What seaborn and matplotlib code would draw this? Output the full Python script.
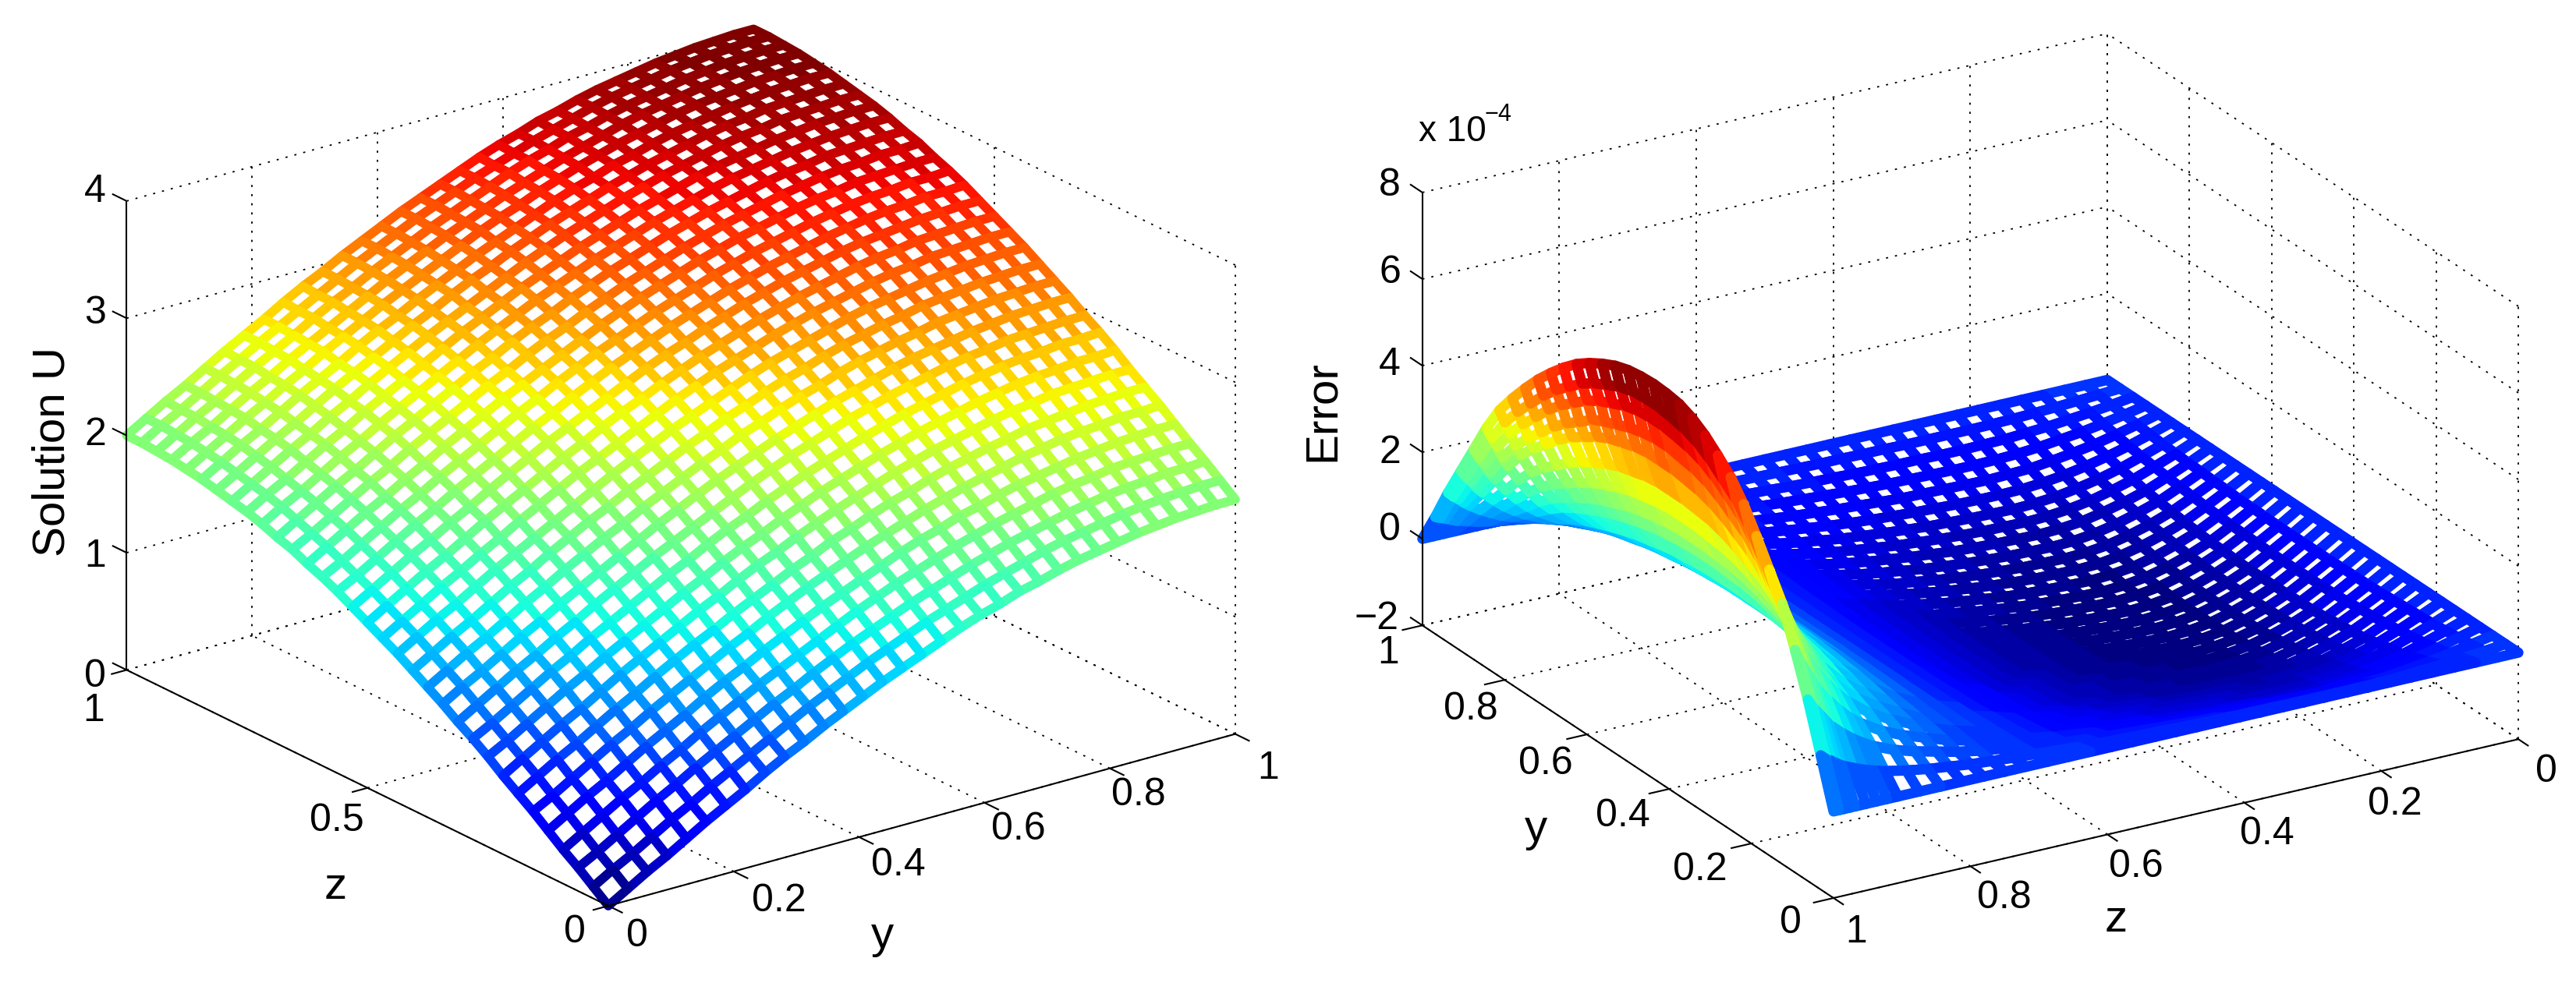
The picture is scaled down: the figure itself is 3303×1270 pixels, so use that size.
import numpy as np
import matplotlib
matplotlib.use("Agg")
import matplotlib.pyplot as plt
import seaborn as sns
from mpl_toolkits.mplot3d import proj3d

sns.set_theme(style="white")
W, H = 3303, 1270
TICKFONT = ["Liberation Sans Narrow", "Liberation Sans"]
LABELFONT = ["Liberation Sans"]

y_ticks = [0, 0.2, 0.4, 0.6, 0.8, 1]
z_ticks_left = [0, 0.5, 1]
u_ticks = [0, 1, 2, 3, 4]
e_ticks = [-2, 0, 2, 4, 6, 8]
z_ticks_right = [0, 0.2, 0.4, 0.6, 0.8, 1]

error_z = [0, .0313, .0625, .0938, .125, .1563, .1875, .2188, .25, .2813, .3125, .3438, .375, .4063, .4375,
           .4688, .5, .5313, .5625, .5938, .625, .6563, .6875, .7188, .75, .7813, .8125, .8438, .875, .9063,
           .9219, .9375, .9531, .9688, .9766, .9844, .9922, 1]

solution_u = [
 [0,.10,.20,.29,.39,.49,.58,.67,.77,.86,.94,1.03,1.11,1.19,1.27,1.34,1.41,1.48,1.55,1.61,1.66,1.72,1.76,1.81,1.85,1.88,1.91,1.94,1.96,1.98,1.99,2.00,2.00],
 [.10,.20,.29,.39,.49,.58,.68,.77,.86,.95,1.04,1.13,1.21,1.29,1.37,1.44,1.51,1.58,1.64,1.70,1.76,1.81,1.86,1.91,1.95,1.98,2.01,2.04,2.06,2.08,2.09,2.10,2.10],
 [.20,.29,.39,.49,.59,.68,.78,.87,.96,1.05,1.14,1.22,1.31,1.39,1.47,1.54,1.61,1.68,1.74,1.80,1.86,1.91,1.96,2.00,2.04,2.08,2.11,2.14,2.16,2.17,2.19,2.19,2.20],
 [.29,.39,.49,.59,.68,.78,.87,.97,1.06,1.15,1.24,1.32,1.40,1.48,1.56,1.64,1.71,1.78,1.84,1.90,1.96,2.01,2.06,2.10,2.14,2.18,2.21,2.23,2.26,2.27,2.28,2.29,2.29],
 [.39,.49,.59,.68,.78,.88,.97,1.06,1.16,1.25,1.33,1.42,1.50,1.58,1.66,1.73,1.80,1.87,1.94,2.00,2.05,2.11,2.15,2.20,2.24,2.27,2.30,2.33,2.35,2.37,2.38,2.39,2.39],
 [.49,.58,.68,.78,.88,.97,1.07,1.16,1.25,1.34,1.43,1.51,1.60,1.68,1.76,1.83,1.90,1.97,2.03,2.09,2.15,2.20,2.25,2.29,2.33,2.37,2.40,2.43,2.45,2.46,2.48,2.48,2.49],
 [.58,.68,.78,.87,.97,1.07,1.16,1.26,1.35,1.44,1.52,1.61,1.69,1.77,1.85,1.92,2.00,2.06,2.13,2.19,2.24,2.30,2.35,2.39,2.43,2.46,2.50,2.52,2.54,2.56,2.57,2.58,2.58],
 [.67,.77,.87,.97,1.06,1.16,1.26,1.35,1.44,1.53,1.62,1.70,1.79,1.87,1.94,2.02,2.09,2.16,2.22,2.28,2.34,2.39,2.44,2.48,2.52,2.56,2.59,2.61,2.64,2.65,2.66,2.67,2.67],
 [.77,.86,.96,1.06,1.16,1.25,1.35,1.44,1.53,1.62,1.71,1.79,1.88,1.96,2.03,2.11,2.18,2.25,2.31,2.37,2.43,2.48,2.53,2.57,2.61,2.65,2.68,2.71,2.73,2.74,2.76,2.76,2.77],
 [.86,.95,1.05,1.15,1.25,1.34,1.44,1.53,1.62,1.71,1.80,1.88,1.97,2.05,2.12,2.20,2.27,2.34,2.40,2.46,2.52,2.57,2.62,2.66,2.70,2.74,2.77,2.80,2.82,2.83,2.85,2.85,2.86],
 [.94,1.04,1.14,1.24,1.33,1.43,1.52,1.62,1.71,1.80,1.89,1.97,2.05,2.13,2.21,2.29,2.36,2.43,2.49,2.55,2.61,2.66,2.71,2.75,2.79,2.83,2.86,2.88,2.91,2.92,2.93,2.94,2.94],
 [1.03,1.13,1.22,1.32,1.42,1.51,1.61,1.70,1.79,1.88,1.97,2.06,2.14,2.22,2.30,2.37,2.44,2.51,2.57,2.63,2.69,2.74,2.79,2.84,2.88,2.91,2.94,2.97,2.99,3.01,3.02,3.03,3.03],
 [1.11,1.21,1.31,1.40,1.50,1.60,1.69,1.79,1.88,1.97,2.05,2.14,2.22,2.30,2.38,2.45,2.53,2.59,2.66,2.72,2.77,2.83,2.88,2.92,2.96,2.99,3.03,3.05,3.07,3.09,3.10,3.11,3.11],
 [1.19,1.29,1.39,1.48,1.58,1.68,1.77,1.87,1.96,2.05,2.13,2.22,2.30,2.38,2.46,2.53,2.61,2.67,2.74,2.80,2.85,2.91,2.96,3.00,3.04,3.07,3.11,3.13,3.15,3.17,3.18,3.19,3.19],
 [1.27,1.37,1.47,1.56,1.66,1.76,1.85,1.94,2.03,2.12,2.21,2.30,2.38,2.46,2.54,2.61,2.68,2.75,2.82,2.88,2.93,2.98,3.03,3.08,3.12,3.15,3.18,3.21,3.23,3.25,3.26,3.27,3.27],
 [1.34,1.44,1.54,1.64,1.73,1.83,1.92,2.02,2.11,2.20,2.29,2.37,2.45,2.53,2.61,2.69,2.76,2.83,2.89,2.95,3.01,3.06,3.11,3.15,3.19,3.23,3.26,3.28,3.31,3.32,3.33,3.34,3.34],
 [1.41,1.51,1.61,1.71,1.80,1.90,2.00,2.09,2.18,2.27,2.36,2.44,2.53,2.61,2.68,2.76,2.83,2.90,2.96,3.02,3.08,3.13,3.18,3.22,3.26,3.30,3.33,3.35,3.38,3.39,3.40,3.41,3.41],
 [1.48,1.58,1.68,1.78,1.87,1.97,2.06,2.16,2.25,2.34,2.43,2.51,2.59,2.67,2.75,2.83,2.90,2.96,3.03,3.09,3.15,3.20,3.25,3.29,3.33,3.37,3.40,3.42,3.44,3.46,3.47,3.48,3.48],
 [1.55,1.64,1.74,1.84,1.94,2.03,2.13,2.22,2.31,2.40,2.49,2.57,2.66,2.74,2.82,2.89,2.96,3.03,3.09,3.15,3.21,3.26,3.31,3.35,3.39,3.43,3.46,3.49,3.51,3.52,3.54,3.54,3.55],
 [1.61,1.70,1.80,1.90,2.00,2.09,2.19,2.28,2.37,2.46,2.55,2.63,2.72,2.80,2.88,2.95,3.02,3.09,3.15,3.21,3.27,3.32,3.37,3.41,3.45,3.49,3.52,3.55,3.57,3.58,3.60,3.60,3.61],
 [1.66,1.76,1.86,1.96,2.05,2.15,2.24,2.34,2.43,2.52,2.61,2.69,2.77,2.85,2.93,3.01,3.08,3.15,3.21,3.27,3.33,3.38,3.43,3.47,3.51,3.55,3.58,3.60,3.63,3.64,3.65,3.66,3.66],
 [1.72,1.81,1.91,2.01,2.11,2.20,2.30,2.39,2.48,2.57,2.66,2.74,2.83,2.91,2.98,3.06,3.13,3.20,3.26,3.32,3.38,3.43,3.48,3.52,3.56,3.60,3.63,3.66,3.68,3.69,3.71,3.71,3.72],
 [1.76,1.86,1.96,2.06,2.15,2.25,2.35,2.44,2.53,2.62,2.71,2.79,2.88,2.96,3.03,3.11,3.18,3.25,3.31,3.37,3.43,3.48,3.53,3.57,3.61,3.65,3.68,3.70,3.73,3.74,3.75,3.76,3.76],
 [1.81,1.91,2.00,2.10,2.20,2.29,2.39,2.48,2.57,2.66,2.75,2.84,2.92,3.00,3.08,3.15,3.22,3.29,3.35,3.41,3.47,3.52,3.57,3.62,3.66,3.69,3.72,3.75,3.77,3.79,3.80,3.81,3.81],
 [1.85,1.95,2.04,2.14,2.24,2.33,2.43,2.52,2.61,2.70,2.79,2.88,2.96,3.04,3.12,3.19,3.26,3.33,3.39,3.45,3.51,3.56,3.61,3.66,3.70,3.73,3.76,3.79,3.81,3.83,3.84,3.85,3.85],
 [1.88,1.98,2.08,2.18,2.27,2.37,2.46,2.56,2.65,2.74,2.83,2.91,2.99,3.07,3.15,3.23,3.30,3.37,3.43,3.49,3.55,3.60,3.65,3.69,3.73,3.77,3.80,3.82,3.85,3.86,3.87,3.88,3.88],
 [1.91,2.01,2.11,2.21,2.30,2.40,2.50,2.59,2.68,2.77,2.86,2.94,3.03,3.11,3.18,3.26,3.33,3.40,3.46,3.52,3.58,3.63,3.68,3.72,3.76,3.80,3.83,3.85,3.88,3.89,3.90,3.91,3.91],
 [1.94,2.04,2.14,2.23,2.33,2.43,2.52,2.61,2.71,2.80,2.88,2.97,3.05,3.13,3.21,3.28,3.35,3.42,3.49,3.55,3.60,3.66,3.70,3.75,3.79,3.82,3.85,3.88,3.90,3.92,3.93,3.94,3.94],
 [1.96,2.06,2.16,2.26,2.35,2.45,2.54,2.64,2.73,2.82,2.91,2.99,3.07,3.15,3.23,3.31,3.38,3.44,3.51,3.57,3.63,3.68,3.73,3.77,3.81,3.85,3.88,3.90,3.92,3.94,3.95,3.96,3.96],
 [1.98,2.08,2.17,2.27,2.37,2.46,2.56,2.65,2.74,2.83,2.92,3.01,3.09,3.17,3.25,3.32,3.39,3.46,3.52,3.58,3.64,3.69,3.74,3.79,3.83,3.86,3.89,3.92,3.94,3.96,3.97,3.98,3.98],
 [1.99,2.09,2.19,2.28,2.38,2.48,2.57,2.66,2.76,2.85,2.93,3.02,3.10,3.18,3.26,3.33,3.40,3.47,3.54,3.60,3.65,3.71,3.75,3.80,3.84,3.87,3.90,3.93,3.95,3.97,3.98,3.99,3.99],
 [2.00,2.10,2.19,2.29,2.39,2.48,2.58,2.67,2.76,2.85,2.94,3.03,3.11,3.19,3.27,3.34,3.41,3.48,3.54,3.60,3.66,3.71,3.76,3.81,3.85,3.88,3.91,3.94,3.96,3.98,3.99,4.00,4.00],
 [2.00,2.10,2.20,2.29,2.39,2.49,2.58,2.67,2.77,2.86,2.94,3.03,3.11,3.19,3.27,3.34,3.41,3.48,3.55,3.61,3.66,3.72,3.76,3.81,3.85,3.88,3.91,3.94,3.96,3.98,3.99,4.00,4.00],
]

error_e = [
 [0]*33,
 [0,-.05,-.09,-.13,-.17,-.20,-.22,-.24,-.26,-.28,-.29,-.30,-.30,-.31,-.31,-.31,-.31,-.31,-.30,-.29,-.29,-.27,-.26,-.24,-.23,-.21,-.19,-.16,-.13,-.10,-.07,-.03,0],
 [0,-.09,-.18,-.26,-.33,-.38,-.43,-.47,-.51,-.53,-.56,-.58,-.59,-.59,-.60,-.60,-.60,-.59,-.58,-.57,-.55,-.53,-.50,-.47,-.44,-.40,-.36,-.31,-.25,-.19,-.13,-.06,0],
 [0,-.13,-.26,-.37,-.48,-.55,-.62,-.69,-.74,-.77,-.81,-.84,-.85,-.86,-.87,-.87,-.87,-.86,-.84,-.83,-.80,-.77,-.73,-.69,-.64,-.58,-.52,-.44,-.36,-.27,-.18,-.09,0],
 [0,-.16,-.32,-.46,-.59,-.68,-.77,-.85,-.92,-.96,-1.00,-1.04,-1.06,-1.07,-1.08,-1.08,-1.08,-1.07,-1.05,-1.03,-.99,-.95,-.91,-.85,-.79,-.72,-.65,-.55,-.44,-.33,-.23,-.11,0],
 [0,-.19,-.38,-.54,-.69,-.79,-.89,-.99,-1.06,-1.11,-1.16,-1.20,-1.23,-1.24,-1.25,-1.25,-1.25,-1.24,-1.21,-1.19,-1.15,-1.10,-1.05,-.99,-.91,-.84,-.75,-.64,-.51,-.39,-.26,-.13,0],
 [0,-.21,-.41,-.59,-.76,-.87,-.98,-1.09,-1.17,-1.23,-1.28,-1.32,-1.35,-1.37,-1.38,-1.38,-1.38,-1.37,-1.34,-1.31,-1.27,-1.21,-1.16,-1.09,-1.01,-.92,-.83,-.70,-.57,-.43,-.29,-.14,0],
 [0,-.22,-.44,-.62,-.80,-.91,-1.03,-1.15,-1.23,-1.29,-1.35,-1.39,-1.42,-1.44,-1.45,-1.45,-1.45,-1.44,-1.41,-1.38,-1.33,-1.28,-1.22,-1.15,-1.06,-.97,-.87,-.74,-.59,-.45,-.30,-.15,0],
 [0,-.22,-.44,-.64,-.81,-.93,-1.05,-1.17,-1.26,-1.32,-1.38,-1.42,-1.45,-1.47,-1.48,-1.48,-1.48,-1.47,-1.44,-1.41,-1.36,-1.30,-1.24,-1.17,-1.08,-.99,-.89,-.75,-.61,-.46,-.31,-.15,0],
 [0,-.22,-.44,-.63,-.81,-.93,-1.04,-1.16,-1.25,-1.31,-1.37,-1.41,-1.44,-1.46,-1.47,-1.47,-1.47,-1.46,-1.43,-1.40,-1.35,-1.29,-1.23,-1.16,-1.07,-.98,-.88,-.75,-.60,-.46,-.31,-.15,0],
 [0,-.22,-.44,-.62,-.80,-.91,-1.03,-1.15,-1.23,-1.29,-1.35,-1.39,-1.42,-1.44,-1.45,-1.45,-1.45,-1.44,-1.41,-1.38,-1.33,-1.28,-1.22,-1.15,-1.06,-.97,-.87,-.74,-.59,-.45,-.30,-.15,0],
 [0,-.21,-.43,-.61,-.78,-.89,-1.01,-1.12,-1.21,-1.26,-1.32,-1.36,-1.39,-1.41,-1.42,-1.42,-1.42,-1.41,-1.38,-1.35,-1.31,-1.25,-1.19,-1.12,-1.04,-.95,-.85,-.72,-.58,-.44,-.30,-.14,0],
 [0,-.21,-.41,-.59,-.76,-.87,-.98,-1.09,-1.17,-1.23,-1.28,-1.32,-1.35,-1.37,-1.38,-1.38,-1.38,-1.37,-1.34,-1.31,-1.27,-1.21,-1.16,-1.09,-1.01,-.92,-.83,-.70,-.57,-.43,-.29,-.14,0],
 [0,-.20,-.40,-.57,-.73,-.83,-.94,-1.04,-1.12,-1.17,-1.23,-1.27,-1.29,-1.31,-1.32,-1.32,-1.32,-1.31,-1.28,-1.25,-1.21,-1.16,-1.11,-1.04,-.96,-.88,-.79,-.67,-.54,-.41,-.28,-.13,0],
 [0,-.19,-.38,-.54,-.69,-.79,-.89,-.99,-1.06,-1.11,-1.16,-1.20,-1.23,-1.24,-1.25,-1.25,-1.25,-1.24,-1.21,-1.19,-1.15,-1.10,-1.05,-.99,-.91,-.84,-.75,-.64,-.51,-.39,-.26,-.13,0],
 [0,-.18,-.35,-.50,-.64,-.74,-.83,-.92,-.99,-1.04,-1.09,-1.12,-1.15,-1.16,-1.17,-1.17,-1.17,-1.16,-1.13,-1.11,-1.08,-1.03,-.98,-.92,-.85,-.78,-.70,-.60,-.48,-.36,-.25,-.12,0],
 [0,-.16,-.32,-.46,-.59,-.68,-.77,-.85,-.92,-.96,-1.00,-1.04,-1.06,-1.07,-1.08,-1.08,-1.08,-1.07,-1.05,-1.03,-.99,-.95,-.91,-.85,-.79,-.72,-.65,-.55,-.44,-.33,-.23,-.11,0],
 [0,-.15,-.29,-.42,-.53,-.61,-.69,-.77,-.82,-.86,-.90,-.93,-.95,-.96,-.97,-.97,-.97,-.96,-.94,-.92,-.89,-.85,-.81,-.77,-.71,-.65,-.58,-.49,-.40,-.30,-.20,-.10,0],
 [0,-.13,-.26,-.37,-.47,-.54,-.60,-.67,-.72,-.76,-.79,-.82,-.83,-.84,-.85,-.85,-.85,-.84,-.82,-.81,-.78,-.75,-.71,-.67,-.62,-.57,-.51,-.43,-.35,-.26,-.18,-.09,0],
 [0,-.11,-.21,-.30,-.39,-.44,-.50,-.55,-.60,-.62,-.65,-.67,-.69,-.69,-.70,-.70,-.70,-.69,-.68,-.67,-.64,-.62,-.59,-.55,-.51,-.47,-.42,-.36,-.29,-.22,-.15,-.07,0],
 [0,-.08,-.17,-.24,-.30,-.35,-.39,-.43,-.47,-.49,-.51,-.53,-.54,-.54,-.55,-.55,-.55,-.54,-.53,-.52,-.51,-.48,-.46,-.43,-.40,-.37,-.33,-.28,-.23,-.17,-.12,-.06,0],
 [0,-.05,-.11,-.15,-.19,-.22,-.25,-.28,-.30,-.31,-.33,-.34,-.34,-.35,-.35,-.35,-.35,-.35,-.34,-.33,-.32,-.31,-.29,-.28,-.26,-.23,-.21,-.18,-.14,-.11,-.07,-.04,0],
 [0,-.02,-.05,-.06,-.08,-.09,-.11,-.12,-.13,-.13,-.14,-.14,-.15,-.15,-.15,-.15,-.15,-.15,-.15,-.14,-.14,-.13,-.13,-.12,-.11,-.10,-.09,-.08,-.06,-.05,-.03,-.02,0],
 [0,.01,.02,.02,.03,.03,.04,.04,.04,.04,.05,.05,.05,.05,.05,.05,.05,.05,.05,.05,.05,.04,.04,.04,.04,.03,.03,.03,.02,.02,.01,.01,0],
 [0,.05,.09,.13,.17,.19,.21,.24,.26,.27,.28,.29,.29,.30,.30,.30,.30,.30,.29,.29,.28,.26,.25,.24,.22,.20,.18,.15,.12,.09,.06,.03,0],
 [0,.09,.18,.26,.33,.38,.43,.47,.51,.53,.56,.58,.59,.59,.60,.60,.60,.59,.58,.57,.55,.53,.50,.47,.44,.40,.36,.31,.25,.19,.13,.06,0],
 [0,.15,.30,.43,.55,.63,.71,.79,.85,.89,.93,.96,.98,.99,1,1,1,.99,.97,.95,.92,.88,.84,.79,.73,.67,.60,.51,.41,.31,.21,.10,0],
 [0,.21,.42,.60,.77,.88,.99,1.11,1.19,1.25,1.30,1.34,1.37,1.39,1.40,1.40,1.40,1.39,1.36,1.33,1.29,1.23,1.18,1.11,1.02,.94,.84,.71,.57,.43,.29,.14,0],
 [0,.29,.57,.82,1.05,1.20,1.35,1.50,1.62,1.69,1.77,1.82,1.86,1.88,1.90,1.90,1.90,1.88,1.84,1.81,1.75,1.67,1.60,1.50,1.39,1.27,1.14,.97,.78,.59,.40,.19,0],
 [0,.39,.78,1.12,1.43,1.64,1.85,2.05,2.21,2.31,2.42,2.50,2.55,2.57,2.60,2.60,2.60,2.57,2.52,2.47,2.39,2.29,2.18,2.05,1.90,1.74,1.56,1.33,1.07,.81,.55,.26,0],
 [0,.46,.92,1.31,1.68,1.92,2.17,2.41,2.59,2.71,2.84,2.93,2.99,3.02,3.05,3.05,3.05,3.02,2.96,2.90,2.81,2.68,2.56,2.41,2.23,2.04,1.83,1.56,1.25,.95,.64,.31,0],
 [0,.54,1.08,1.55,1.98,2.27,2.56,2.84,3.06,3.20,3.35,3.46,3.53,3.56,3.60,3.60,3.60,3.56,3.49,3.42,3.31,3.17,3.02,2.84,2.63,2.41,2.16,1.84,1.48,1.12,.76,.36,0],
 [0,.64,1.28,1.83,2.34,2.68,3.02,3.36,3.61,3.78,3.95,4.08,4.17,4.21,4.25,4.25,4.25,4.21,4.12,4.04,3.91,3.74,3.57,3.36,3.10,2.85,2.55,2.17,1.74,1.32,.89,.43,0],
 [0,.75,1.50,2.15,2.75,3.15,3.55,3.95,4.25,4.45,4.65,4.80,4.90,4.95,5,5,5,4.95,4.85,4.75,4.60,4.40,4.20,3.95,3.65,3.35,3.00,2.55,2.05,1.55,1.05,.50,0],
 [0,.83,1.67,2.39,3.05,3.50,3.94,4.38,4.72,4.94,5.16,5.33,5.44,5.49,5.55,5.55,5.50,5.42,5.30,5.17,5.03,4.78,4.55,4.28,3.95,3.62,3.25,2.78,2.23,1.68,1.14,.55,0],
 [0,.92,1.83,2.62,3.36,3.84,4.33,4.80,5.18,5.43,5.67,5.85,5.96,6.02,6.07,6.07,6.04,5.96,5.82,5.68,5.50,5.25,5.00,4.70,4.33,3.97,3.56,3.05,2.45,1.85,1.25,.60,0],
 [0,.99,1.98,2.84,3.63,4.16,4.69,5.20,5.60,5.86,6.12,6.32,6.44,6.50,6.55,6.55,6.52,6.43,6.28,6.12,5.92,5.65,5.38,5.05,4.67,4.28,3.84,3.28,2.63,1.99,1.34,.65,0],
 [0,1.10,2.19,3.14,4.02,4.60,5.18,5.72,6.15,6.45,6.72,6.92,7.05,7.10,7.12,7.10,7.05,6.95,6.80,6.62,6.40,6.12,5.80,5.45,5.05,4.62,4.15,3.55,2.85,2.16,1.46,.70,0],
]


def make_axes(pos_front, pos_right, elev, azim, aspect, xlim_z, xf, yf, xb_r, yb_r, zlo):
    ax = fig.add_axes([0.2, 0.1, 1000 / W, 1000 / H], projection="3d", proj_type="ortho")
    ax.view_init(elev=elev, azim=azim)
    ax.set_box_aspect(aspect)
    ax.set_xlim(0, 1)
    ax.set_ylim(0, 1)
    ax.set_zlim(*xlim_z)
    ax.set_axis_off()
    ax.computed_zorder = False

    def pix(x, y, z):
        xp, yp, _ = proj3d.proj_transform(x, y, z, ax.get_proj())
        return ax.transData.transform((xp, yp))

    ax.apply_aspect()
    a, b = pix(xf, yf, zlo), pix(xb_r, yb_r, zlo)
    target = np.hypot(pos_right[0] - pos_front[0], pos_right[1] - pos_front[1])
    w = 1000 * target / np.hypot(*(b - a))
    ax.set_position([0.2, 0.1, w / W, w / H])
    ax.apply_aspect()
    a = pix(xf, yf, zlo)
    x0 = 0.2 * W + pos_front[0] - a[0]
    y0 = 0.1 * H + (H - pos_front[1]) - a[1]
    ax.set_position([x0 / W, y0 / H, w / W, w / H])
    ax.apply_aspect()
    return ax


def draw_box(ax, xt, yt, zt, xf, yf, xa, ya, zax_dir):
    xb, yb = 1 - xf, 1 - yf
    zlo, zhi = zt[0], zt[-1]
    dot = dict(color="black", lw=1.3, ls=(0, (1.5, 5)), zorder=1)
    sol = dict(color="black", lw=1.5, zorder=3, solid_capstyle="butt")
    for t in xt:
        ax.plot([t, t], [yf, yb], [zlo, zlo], **dot)
        ax.plot([t, t], [yb, yb], [zlo, zhi], **dot)
    for t in yt:
        ax.plot([xf, xb], [t, t], [zlo, zlo], **dot)
        ax.plot([xb, xb], [t, t], [zlo, zhi], **dot)
    for t in zt:
        ax.plot([xf, xb], [yb, yb], [t, t], **dot)
        ax.plot([xb, xb], [yf, yb], [t, t], **dot)
    ax.plot([0, 1], [yf, yf], [zlo, zlo], **sol)
    ax.plot([xf, xf], [0, 1], [zlo, zlo], **sol)
    ax.plot([xa, xa], [ya, ya], [zlo, zhi], **sol)
    dy = -0.03 if yf == 0 else 0.03
    dx = -0.025 if xf == 0 else 0.025
    for t in xt:
        ax.plot([t, t], [yf, yf + dy], [zlo, zlo], **sol)
    for t in yt:
        ax.plot([xf, xf + dx], [t, t], [zlo, zlo], **sol)
    for t in zt:
        if zax_dir == "y":
            ax.plot([xa, xa], [ya, ya + 0.03], [t, t], **sol)
        else:
            ax.plot([xa, xa + 0.03], [ya, ya], [t, t], **sol)


def draw_mesh(ax, table, vmin, vmax, lw, zgrid=None):
    v = np.array(table, dtype=float)
    n, m = v.shape
    rows = np.linspace(0, 1, n) if zgrid is None else np.array(zgrid)
    Y, Z = np.meshgrid(np.linspace(0, 1, m), rows)
    surf = ax.plot_surface(Y, Z, v, rstride=1, cstride=1, color="white", shade=False,
                           linewidth=lw, zorder=2)
    cell = (v[:-1, :-1] + v[1:, :-1] + v[:-1, 1:] + v[1:, 1:]) / 4
    cmap = matplotlib.colormaps["jet"].resampled(64)
    surf.set_edgecolor(cmap(np.clip((cell - vmin) / (vmax - vmin), 0, 1)).reshape(-1, 4))


def T(x, y, s, size=36, fam=TICKFONT, **kw):
    fig.text(x * 2.1065 / W, 1 - y * 2.1065 / H, s, ha="center", va="center",
             fontsize=size, family=fam, color="black", **kw)


fig = plt.figure(figsize=(W / 100, H / 100), dpi=100, facecolor="white")

ax1 = make_axes((780, 1162), (1584, 942), 21.5, 233.2, (1, 1.027, 0.644), (0, 4), 0, 0, 1, 0, 0)
draw_box(ax1, y_ticks, z_ticks_left, u_ticks, 0, 0, 0, 1, "y")
draw_mesh(ax1, solution_u, 0, 4, 8.5)

ax2 = make_axes((2351, 1152), (3229, 948), 23.1, 149.4, (1, 0.985, 0.583), (-2, 8), 0, 1, 0, 0, -2)
draw_box(ax2, y_ticks, z_ticks_right, e_ticks, 0, 1, 1, 1, "x")
draw_mesh(ax2, error_e, -1.5, 7.0, 9.5, error_z)

for t, yy in zip(["4", "3", "2", "1", "0"], [117, 191, 265, 339, 412]):
    T(58, yy, t)
T(57, 433, "1"); T(205, 500, "0.5"); T(350, 568, "0")
for t, xx, yy in zip(["0", "0.2", "0.4", "0.6", "0.8", "1"], [388, 474, 547, 620, 693, 772], [570, 549, 527, 505, 484, 468]):
    T(xx, yy, t)
T(32, 275, "Solution U", 42, LABELFONT, rotation=90)
T(204, 540, "z", 42, LABELFONT)
T(537, 570, "y", 42, LABELFONT)

for t, xx, yy in zip(["8", "6", "4", "2", "0", "\u22122"], [846] * 5 + [838], [113, 166, 222, 276, 323, 377]):
    T(xx, yy, t)
for t, xx, yy in zip(["1", "0.8", "0.6", "0.4", "0.2", "0"], [845, 895, 941, 988, 1035, 1090], [398, 432, 465, 497, 530, 562]):
    T(xx, yy, t)
for t, xx, yy in zip(["1", "0.8", "0.6", "0.4", "0.2", "0"], [1130, 1220, 1300, 1380, 1458, 1550], [568, 547, 528, 508, 490, 470]):
    T(xx, yy, t)
T(805, 250, "Error", 42, LABELFONT, rotation=90)
T(935, 505, "y", 42, LABELFONT)
T(1288, 560, "z", 42, LABELFONT)
T(884, 80, "x 10", 33)
T(912, 70, "\u22124", 22)

fig.savefig("out.png", dpi=100)
